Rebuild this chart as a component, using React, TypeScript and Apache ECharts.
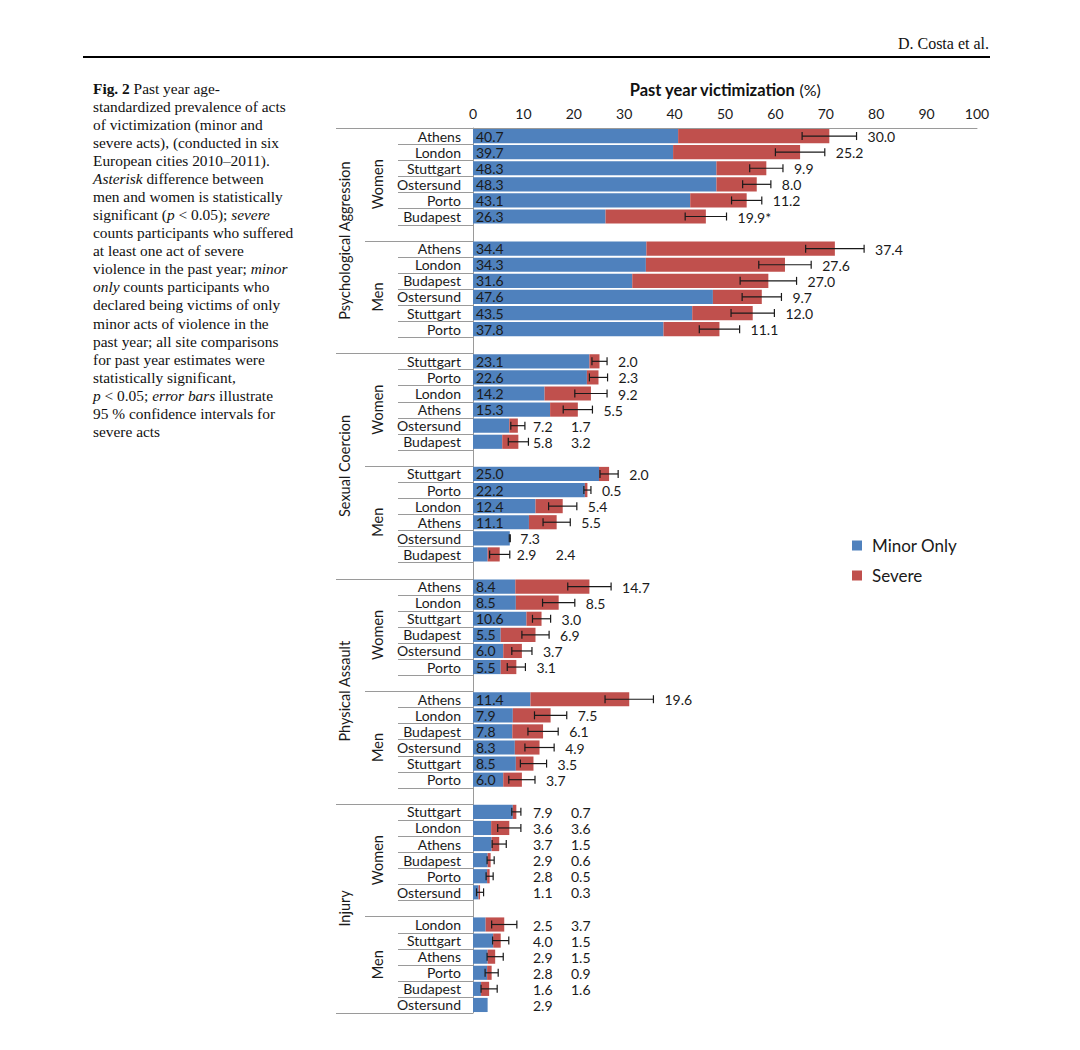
import React, { useEffect, useRef } from 'react';
import * as echarts from 'echarts';

// ---------------- Data ----------------
const categoryNames = ['Psychological Aggression', 'Sexual Coercion', 'Physical Assault', 'Injury'];
const genderNames = ['Women', 'Men'];
const seriesNames = ['Minor Only', 'Severe'];

const psyWomenCities = ['Athens', 'London', 'Stuttgart', 'Ostersund', 'Porto', 'Budapest'];
const psyWomenMinor = [40.7, 39.7, 48.3, 48.3, 43.1, 26.3];
const psyWomenSevere = [30.0, 25.2, 9.9, 8.0, 11.2, 19.9];
const psyWomenCI = [5.4, 4.9, 3.3, 2.8, 3.0, 4.1];
const psyWomenMarks = ['', '', '', '', '', '*'];

const psyMenCities = ['Athens', 'London', 'Budapest', 'Ostersund', 'Stuttgart', 'Porto'];
const psyMenMinor = [34.4, 34.3, 31.6, 47.6, 43.5, 37.8];
const psyMenSevere = [37.4, 27.6, 27.0, 9.7, 12.0, 11.1];
const psyMenCI = [5.8, 5.2, 5.6, 3.9, 4.3, 4.0];

const sexWomenCities = ['Stuttgart', 'Porto', 'London', 'Athens', 'Ostersund', 'Budapest'];
const sexWomenMinor = [23.1, 22.6, 14.2, 15.3, 7.2, 5.8];
const sexWomenSevere = [2.0, 2.3, 9.2, 5.5, 1.7, 3.2];
const sexWomenCI = [1.5, 1.8, 3.2, 2.9, 1.4, 2.0];

const sexMenCities = ['Stuttgart', 'Porto', 'London', 'Athens', 'Ostersund', 'Budapest'];
const sexMenMinor = [25.0, 22.2, 12.4, 11.1, 7.3, 2.9];
const sexMenSevere = [2.0, 0.5, 5.4, 5.5, 0, 2.4];
const sexMenCI = [1.8, 0.7, 2.8, 2.7, 0.1, 2.0];

const physWomenCities = ['Athens', 'London', 'Stuttgart', 'Budapest', 'Ostersund', 'Porto'];
const physWomenMinor = [8.4, 8.5, 10.6, 5.5, 6.0, 5.5];
const physWomenSevere = [14.7, 8.5, 3.0, 6.9, 3.7, 3.1];
const physWomenCI = [4.3, 3.2, 1.8, 2.7, 2.0, 1.8];

const physMenCities = ['Athens', 'London', 'Budapest', 'Ostersund', 'Stuttgart', 'Porto'];
const physMenMinor = [11.4, 7.9, 7.8, 8.3, 8.5, 6.0];
const physMenSevere = [19.6, 7.5, 6.1, 4.9, 3.5, 3.7];
const physMenCI = [4.8, 3.2, 3.0, 2.9, 2.6, 2.6];

const injWomenCities = ['Stuttgart', 'London', 'Athens', 'Budapest', 'Porto', 'Ostersund'];
const injWomenMinor = [7.9, 3.6, 3.7, 2.9, 2.8, 1.1];
const injWomenSevere = [0.7, 3.6, 1.5, 0.6, 0.5, 0.3];
const injWomenCI = [0.9, 2.3, 1.4, 0.7, 0.7, 0.7];

const injMenCities = ['London', 'Stuttgart', 'Athens', 'Porto', 'Budapest', 'Ostersund'];
const injMenMinor = [2.5, 4.0, 2.9, 2.8, 1.6, 2.9];
const injMenSevere = [3.7, 1.5, 1.5, 0.9, 1.6, 0];
const injMenCI = [2.5, 1.6, 1.6, 1.3, 1.6, 0];

// label placement modes: 'in' = minor inside bar, 'col' = both in columns, 'near' / 'end' = after whisker
const allInside = ['in', 'in', 'in', 'in', 'in', 'in'];
const sexWomenLabelModes = ['in', 'in', 'in', 'in', 'col', 'col'];
const sexMenLabelModes = ['in', 'in', 'in', 'in', 'end', 'near'];
const injLabelModes = ['col', 'col', 'col', 'col', 'col', 'col'];

const captionLines = [
  '{b|Fig. 2} Past year age-',
  'standardized prevalence of acts',
  'of victimization (minor and',
  'severe acts), (conducted in six',
  'European cities 2010–2011).',
  '{i|Asterisk} difference between',
  'men and women is statistically',
  'significant ({i|p} < 0.05); {i|severe}',
  'counts participants who suffered',
  'at least one act of severe',
  'violence in the past year; {i|minor}',
  '{i|only} counts participants who',
  'declared being victims of only',
  'minor acts of violence in the',
  'past year; all site comparisons',
  'for past year estimates were',
  'statistically significant,',
  '{i|p} < 0.05; {i|error bars} illustrate',
  '95 % confidence intervals for',
  'severe acts',
];
const headerText = 'D. Costa et al.';

// ---------------- Build rows ----------------
type Row = {
  index: number; city: string; minor: number; severe: number; ci: number; mode: string; mark: string;
};

const groups = [
  { cat: 0, g: 0, cities: psyWomenCities, minor: psyWomenMinor, severe: psyWomenSevere, ci: psyWomenCI, modes: allInside, marks: psyWomenMarks },
  { cat: 0, g: 1, cities: psyMenCities, minor: psyMenMinor, severe: psyMenSevere, ci: psyMenCI, modes: allInside },
  { cat: 1, g: 0, cities: sexWomenCities, minor: sexWomenMinor, severe: sexWomenSevere, ci: sexWomenCI, modes: sexWomenLabelModes },
  { cat: 1, g: 1, cities: sexMenCities, minor: sexMenMinor, severe: sexMenSevere, ci: sexMenCI, modes: sexMenLabelModes },
  { cat: 2, g: 0, cities: physWomenCities, minor: physWomenMinor, severe: physWomenSevere, ci: physWomenCI, modes: allInside },
  { cat: 2, g: 1, cities: physMenCities, minor: physMenMinor, severe: physMenSevere, ci: physMenCI, modes: allInside },
  { cat: 3, g: 0, cities: injWomenCities, minor: injWomenMinor, severe: injWomenSevere, ci: injWomenCI, modes: injLabelModes },
  { cat: 3, g: 1, cities: injMenCities, minor: injMenMinor, severe: injMenSevere, ci: injMenCI, modes: injLabelModes },
];

const rows: (Row | null)[] = [];
const rowKinds: string[] = []; // bottom line kind for each row
const groupLabelItems: { first: number; last: number; text: string; kind: string }[] = [];
groups.forEach((grp, gi) => {
  const first = rows.length;
  grp.cities.forEach((city, k) => {
    rows.push({
      index: rows.length, city, minor: grp.minor[k], severe: grp.severe[k], ci: grp.ci[k],
      mode: grp.modes[k], mark: (grp as any).marks ? (grp as any).marks[k] : '',
    });
    rowKinds.push('row');
  });
  const isLast = gi === groups.length - 1;
  if (!isLast) {
    rows.push(null);
    rowKinds.push(grp.g === 0 ? 'gender' : 'category');
  } else {
    rowKinds[rowKinds.length - 1] = 'category';
  }
  groupLabelItems.push({ first, last: rows.length - 1, text: genderNames[grp.g], kind: 'gender' });
});
categoryNames.forEach((name, c) => {
  const first = c * 14;
  const last = Math.min(c * 14 + 13, rows.length - 1);
  groupLabelItems.push({ first, last, text: name, kind: 'cat' });
});

const fmt = (v: number) => v.toFixed(1);
const FONT = 'Lato';
const SERIF = '"Liberation Serif", serif';
const TEXT = '#1a1a1a';
const LINE = '#9a9a9a';
const CAP_SIZE = 15.4;

function buildOption(): any {
  const yLabels = rows.map((r) => (r ? r.city : ''));
  const minorData = rows.map((r) => (r ? r.minor : '-'));
  const severeData = rows.map((r) => (r ? r.severe : '-'));
  const dataRows = rows.filter((r) => r) as Row[];
  const ciRows = dataRows.filter((r) => r.ci > 0);

  const serifRich = {
    b: { fontWeight: 'bold', fontSize: CAP_SIZE, fontFamily: SERIF, fill: '#111', color: '#111' },
    i: { fontStyle: 'italic', fontSize: CAP_SIZE, fontFamily: SERIF, fill: '#111', color: '#111' },
  };

  const graphicEls: any[] = [
    {
      type: 'text', x: 989, y: 43,
      style: { text: headerText, fontSize: 16, fontFamily: SERIF, fill: '#111', align: 'right', verticalAlign: 'middle' },
    },
    {
      type: 'line', shape: { x1: 83, y1: 57, x2: 990, y2: 57 }, style: { stroke: '#000', lineWidth: 2.2 },
    },
  ];
  captionLines.forEach((line, k) => {
    graphicEls.push({
      type: 'text', x: 93, y: 88 + k * 18.08,
      style: {
        text: line, fontSize: CAP_SIZE, fontFamily: SERIF, fill: '#111',
        align: 'left', verticalAlign: 'middle', rich: serifRich,
      },
    });
  });

  return {
    animation: false,
    backgroundColor: '#fff',
    textStyle: { fontFamily: FONT },
    grid: { left: 473, top: 128, width: 504, height: 885, containLabel: false, outerBoundsMode: 'none' },
    legend: {
      data: [{ name: seriesNames[0], icon: 'rect' }, { name: seriesNames[1], icon: 'rect' }],
      orient: 'vertical', left: 852, top: 537, padding: 0, itemWidth: 10, itemHeight: 10, itemGap: 13,
      selectedMode: false,
      textStyle: { fontSize: 17, fontFamily: FONT, color: TEXT, padding: [0, 0, 0, 5] },
    },
    xAxis: {
      type: 'value', position: 'top', min: 0, max: 100, interval: 10,
      axisLine: { show: true, lineStyle: { color: LINE, width: 1 } },
      axisTick: { show: false },
      splitLine: { show: false },
      axisLabel: { fontSize: 14, fontFamily: FONT, color: TEXT, margin: 8 },
      name: '{b|Past year victimization} (%)',
      nameLocation: 'middle', nameGap: 30,
      nameTextStyle: {
        fontSize: 16, fontFamily: FONT, color: '#111',
        rich: { b: { fontSize: 16.5, fontWeight: 'bold', fontFamily: FONT, color: '#111' } },
      },
    },
    yAxis: {
      type: 'category', inverse: true, data: yLabels,
      axisLine: { show: true, lineStyle: { color: LINE, width: 1 } },
      axisTick: { show: false },
      splitLine: { show: false },
      axisLabel: { interval: 0, fontSize: 14, fontFamily: FONT, color: TEXT, margin: 12 },
    },
    graphic: { elements: graphicEls },
    series: [
      {
        name: seriesNames[0], type: 'bar', stack: 'total', data: minorData,
        barCategoryGap: '12%',
        itemStyle: { color: '#4F81BD' },
        label: {
          show: true, position: 'insideLeft', distance: 3,
          fontSize: 14, fontFamily: FONT, color: TEXT,
          formatter: (p: any) => {
            const r = rows[p.dataIndex];
            return r && r.mode === 'in' ? fmt(r.minor) : '';
          },
        },
        z: 2,
      },
      {
        name: seriesNames[1], type: 'bar', stack: 'total', data: severeData,
        barCategoryGap: '12%',
        itemStyle: { color: '#C0504D' },
        z: 2,
      },
      {
        // confidence intervals
        name: 'ci', type: 'custom', z: 5, silent: true,
        data: ciRows.map((r) => [r.index, r.minor + r.severe - r.ci, r.minor + r.severe + r.ci]),
        encode: { x: [1, 2], y: 0 },
        renderItem: (params: any, api: any) => {
          const i = api.value(0);
          const lo = api.coord([api.value(1), i]);
          const hi = api.coord([api.value(2), i]);
          const y = lo[1];
          const c = 4;
          const st = { stroke: '#1a1a1a', lineWidth: 1.2 };
          return {
            type: 'group',
            children: [
              { type: 'line', shape: { x1: lo[0], y1: y, x2: hi[0], y2: y }, style: st },
              { type: 'line', shape: { x1: lo[0], y1: y - c, x2: lo[0], y2: y + c }, style: st },
              { type: 'line', shape: { x1: hi[0], y1: y - c, x2: hi[0], y2: y + c }, style: st },
            ],
          };
        },
      },
      {
        // value labels outside bars
        name: 'labels', type: 'custom', z: 6, silent: true,
        data: dataRows.map((r) => [r.index, r.minor + r.severe]),
        encode: { x: 1, y: 0 },
        renderItem: (params: any, api: any) => {
          const r = dataRows[params.dataIndex];
          const p0 = api.coord([0, r.index]);
          const x0 = p0[0];
          const yc = p0[1] + 0.5;
          const xEnd = api.coord([r.minor + r.severe, r.index])[0];
          const xErr = r.ci > 0 ? api.coord([r.minor + r.severe + r.ci, r.index])[0] : xEnd;
          const mk = (text: string, x: number) => ({
            type: 'text', x, y: yc,
            style: { text, fill: TEXT, fontSize: 14, fontFamily: FONT, align: 'left', verticalAlign: 'middle' },
          });
          const children: any[] = [];
          if (r.mode === 'in') {
            if (r.severe > 0) children.push(mk(fmt(r.severe) + r.mark, xErr + 11));
          } else if (r.mode === 'col') {
            children.push(mk(fmt(r.minor), x0 + 60));
            if (r.severe > 0) children.push(mk(fmt(r.severe), x0 + 98));
          } else if (r.mode === 'near') {
            children.push(mk(fmt(r.minor), xErr + 7));
            if (r.severe > 0) children.push(mk(fmt(r.severe), xErr + 46));
          } else if (r.mode === 'end') {
            children.push(mk(fmt(r.minor), xErr + 10));
          }
          return { type: 'group', children };
        },
      },
      {
        // table-like row separators left of the axis
        name: 'rowLines', type: 'custom', z: 1, silent: true,
        data: rowKinds.map((k, i) => [0, i]),
        encode: { x: 0, y: 1 },
        renderItem: (params: any, api: any) => {
          const i = api.value(1);
          const p = api.coord([0, i]);
          const h = api.size([0, 1])[1];
          const kind = rowKinds[i];
          const xs = kind === 'row' ? p[0] - 75 : kind === 'gender' ? p[0] - 108 : p[0] - 137;
          const y = Math.round(p[1] + h / 2) + 0.5;
          const st = { stroke: LINE, lineWidth: 1 };
          const children: any[] = [{ type: 'line', shape: { x1: xs, y1: y, x2: p[0], y2: y }, style: st }];
          if (i === 0) {
            const yt = Math.round(p[1] - h / 2) + 0.5;
            children.push({ type: 'line', shape: { x1: p[0] - 137, y1: yt, x2: p[0], y2: yt }, style: st });
          }
          return { type: 'group', children };
        },
      },
      {
        // rotated group labels (category / gender)
        name: 'groupLabels', type: 'custom', z: 1, silent: true,
        data: groupLabelItems.map((g) => [0, g.first, g.last]),
        encode: { x: 0, y: [1, 2] },
        renderItem: (params: any, api: any) => {
          const g = groupLabelItems[params.dataIndex];
          const h = api.size([0, 1])[1];
          const pTop = api.coord([0, g.first]);
          const pBot = api.coord([0, g.last]);
          const yMid = (pTop[1] - h / 2 + pBot[1] + h / 2) / 2;
          return {
            type: 'text',
            x: pTop[0] - (g.kind === 'cat' ? 129 : 96),
            y: yMid,
            rotation: Math.PI / 2,
            style: { text: g.text, fill: TEXT, fontSize: 14.5, fontFamily: FONT, align: 'center', verticalAlign: 'middle' },
          };
        },
      },
    ],
  };
}

export default function App() {
  const ref = useRef<HTMLDivElement>(null);
  useEffect(() => {
    if (!ref.current) return;
    const chart = echarts.init(ref.current, undefined, { renderer: 'svg' });
    chart.setOption(buildOption());
    return () => {
      chart.dispose();
    };
  }, []);
  return (
    <div
      ref={ref}
      style={{ position: 'absolute', left: 0, top: 0, width: 1080, height: 1050, background: '#fff' }}
    />
  );
}
